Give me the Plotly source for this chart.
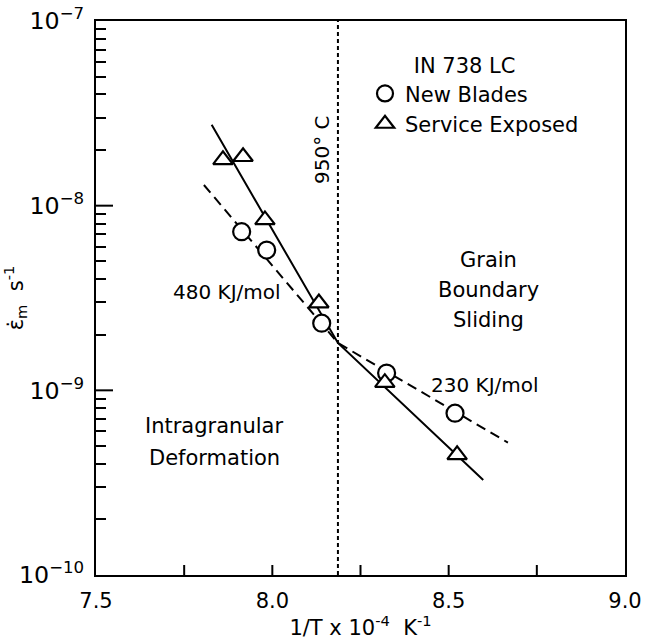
import math
import plotly.graph_objects as go

# ---- data ----
new_x = [7.913, 7.984, 8.140, 8.324, 8.518]
new_y = [7.23e-9, 5.75e-9, 2.31e-9, 1.24e-9, 7.52e-10]

svc_x = [7.860, 7.917, 7.979, 8.132, 8.319, 8.524]
svc_y = [1.77e-8, 1.84e-8, 8.37e-9, 2.97e-9, 1.10e-9, 4.47e-10]

fit_new_x = [7.806, 8.186, 8.668]
fit_new_y = [1.294e-8, 1.805e-9, 5.21e-10]

fit_svc_x = [7.828, 8.186, 8.598]
fit_svc_y = [2.74e-8, 1.805e-9, 3.27e-10]

boundary_x = [8.186, 8.186]
boundary_y = [1e-10, 1e-7]

x_labelvals = [7.5, 8.0, 8.5, 9.0]
x_labeltext = ["7.5", "8.0", "8.5", "9.0"]
x_tickmarks = [7.75, 8.0, 8.25, 8.5, 8.75]
y_decades = [1e-9, 1e-8]
x_range = [7.5, 9.0]
y_range_log = [-10, -7]

FONT = "DejaVu Sans"
BLACK = "black"

fig = go.Figure()

fig.add_trace(go.Scatter(x=boundary_x, y=boundary_y, mode="lines",
                         line=dict(color=BLACK, width=2, dash="4px,3px"),
                         showlegend=False, hoverinfo="skip"))
fig.add_trace(go.Scatter(x=fit_new_x, y=fit_new_y, mode="lines",
                         line=dict(color=BLACK, width=2, dash="10px,6px"),
                         showlegend=False, hoverinfo="skip"))
fig.add_trace(go.Scatter(x=fit_svc_x, y=fit_svc_y, mode="lines",
                         line=dict(color=BLACK, width=2),
                         showlegend=False, hoverinfo="skip"))
fig.add_trace(go.Scatter(x=new_x, y=new_y, mode="markers", name="New Blades",
                         marker=dict(symbol="circle", size=17, color="white",
                                     line=dict(color=BLACK, width=2.2))))
fig.add_trace(go.Scatter(x=svc_x, y=svc_y, mode="markers", name="Service Exposed",
                         marker=dict(symbol="triangle-up", size=17, color="white",
                                     line=dict(color=BLACK, width=2.2))))

L, R, T, B = 96, 33, 21, 65
W, H = 658, 640
pw, ph = W - L - R, H - T - B

def px(x):
    return (x - L) / pw

def py(y):
    return (H - B - y) / ph

texts = [
    ("Grain", 488, 260, 21, 0),
    ("Boundary", 488, 290, 21, 0),
    ("Sliding", 488, 320, 21, 0),
    ("Intragranular", 214, 426, 21, 0),
    ("Deformation", 214, 458, 21, 0),
    ("480 KJ/mol", 227, 292, 20, 0),
    ("230 KJ/mol", 485, 385, 20, 0),
    ("950° C", 322, 150, 20, -90),
]
annotations = []
for t, x, y, s, a in texts:
    annotations.append(dict(text=t, x=px(x), y=py(y), xref="paper", yref="paper",
                            showarrow=False, xanchor="center", yanchor="middle",
                            textangle=a, font=dict(family=FONT, size=s, color=BLACK)))

# tick marks as axis-anchored shapes (pixel lengths), positioned from the tick arrays
shapes = []
for v in x_tickmarks:
    shapes.append(dict(type="line", xref="x", yref="paper", ysizemode="pixel", yanchor=0,
                       x0=v, x1=v, y0=0, y1=10, layer="above",
                       line=dict(color=BLACK, width=2)))
for v in y_decades:
    f = (math.log10(v) - y_range_log[0]) / (y_range_log[1] - y_range_log[0])
    shapes.append(dict(type="line", xref="paper", yref="paper", xsizemode="pixel", xanchor=0,
                       x0=0, x1=17, y0=f, y1=f, layer="above",
                       line=dict(color=BLACK, width=2)))

fig.update_layout(
    width=W, height=H,
    margin=dict(l=L, r=R, t=T, b=B, autoexpand=False),
    paper_bgcolor="white", plot_bgcolor="white",
    font=dict(family=FONT, size=20, color=BLACK),
    annotations=annotations,
    shapes=shapes,
    showlegend=True,
    legend=dict(x=px(365), y=py(46), xanchor="left", yanchor="top",
                bgcolor="rgba(0,0,0,0)", font=dict(family=FONT, size=21),
                title=dict(text="\u00a0" * 7 + "IN 738 LC", font=dict(family=FONT, size=21)),
                itemwidth=30, tracegroupgap=0),
    xaxis=dict(range=x_range, tickvals=x_labelvals, ticktext=x_labeltext,
               automargin=False, ticks="", ticklabelstandoff=6,
               showline=True, linecolor=BLACK, linewidth=2, mirror=True,
               showgrid=False, zeroline=False,
               tickfont=dict(family=FONT, size=21),
               title=dict(text="1/T x 10<sup>-4</sup>  K<sup>-1</sup>",
                          font=dict(family=FONT, size=21))),
    yaxis=dict(type="log", range=y_range_log, dtick=1, exponentformat="power",
               automargin=False, ticks="", ticklabelstandoff=6,
               minor=dict(dtick="D1", ticks="inside", ticklen=10, tickwidth=2,
                          tickcolor=BLACK, showgrid=False),
               showline=True, linecolor=BLACK, linewidth=2, mirror=True,
               showgrid=False, zeroline=False,
               tickfont=dict(family=FONT, size=19),
               title=dict(text="ε̇<sub>m</sub>  s<sup>-1</sup>",
                          font=dict(family=FONT, size=21))),
)

fig.write_html("out.html")
